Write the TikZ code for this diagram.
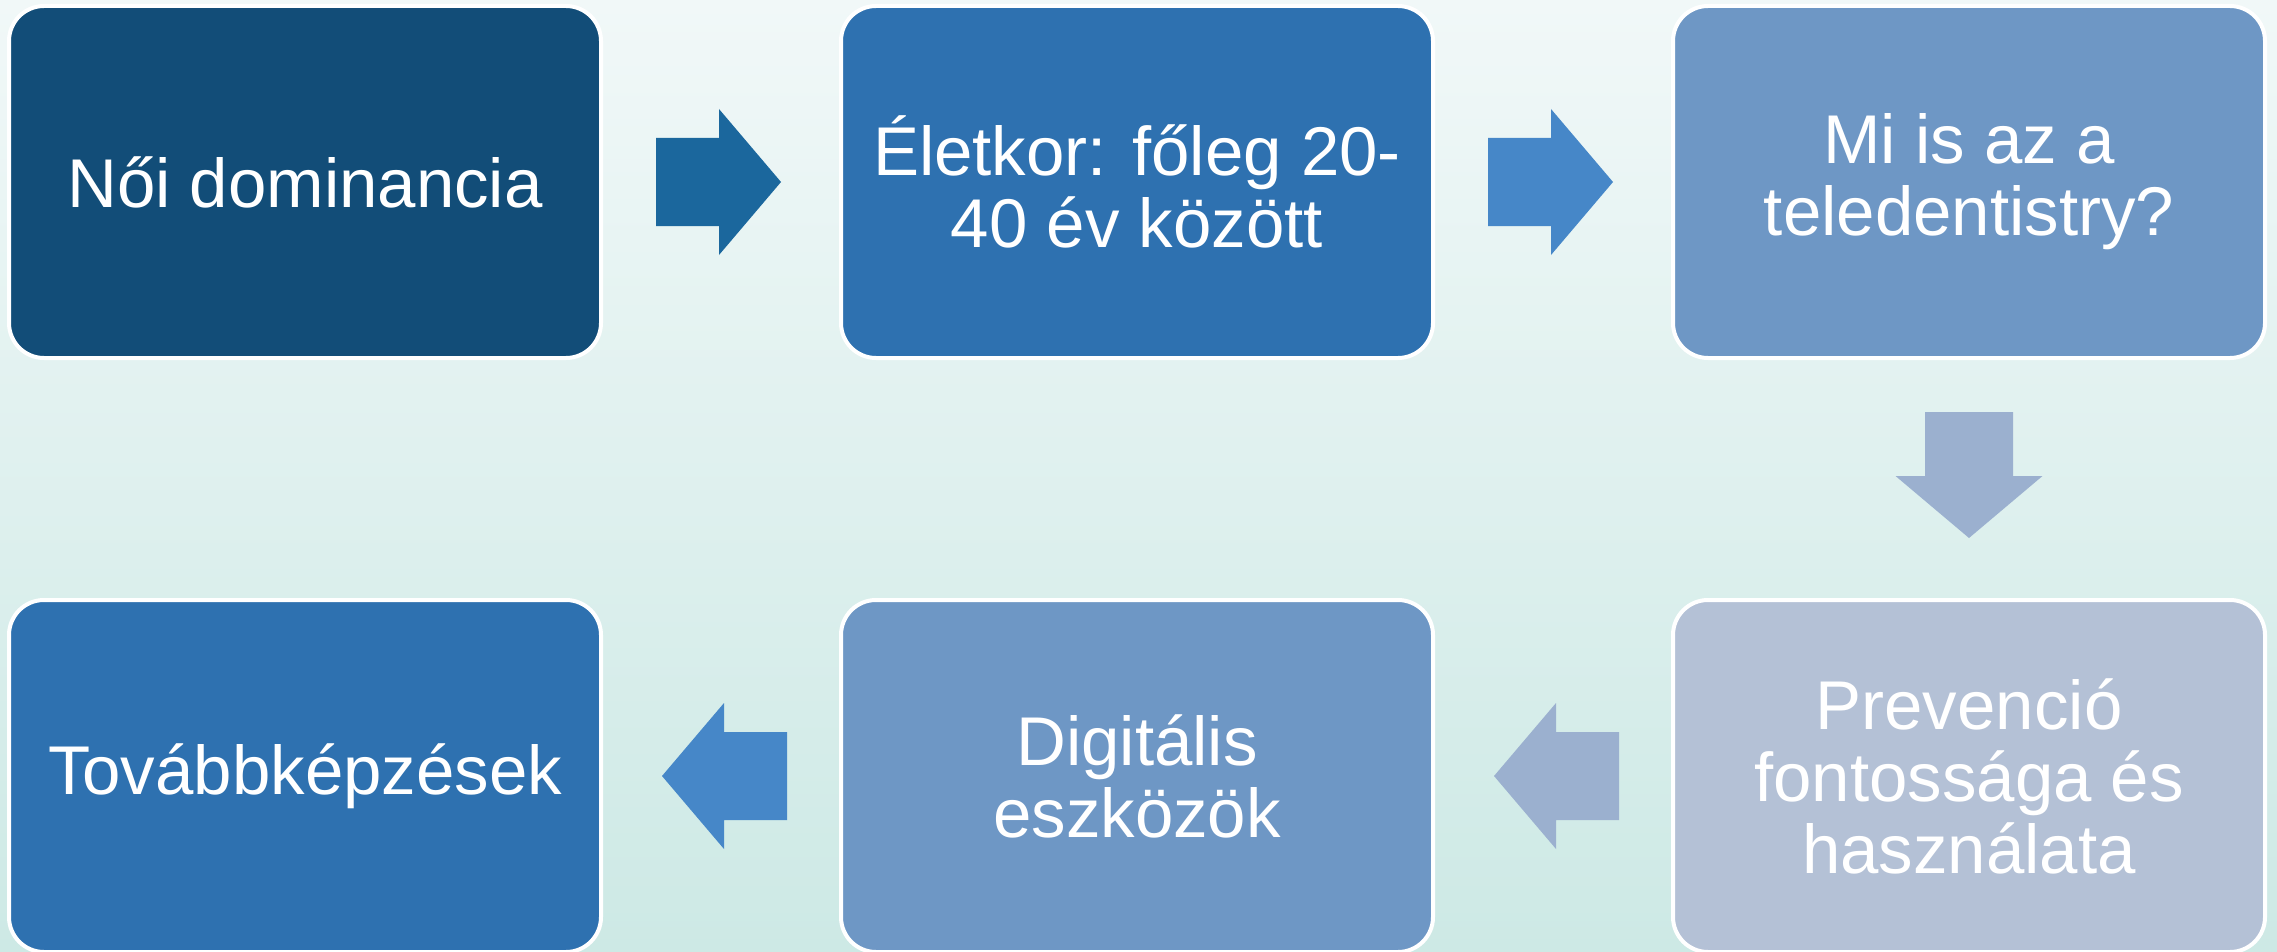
\documentclass[tikz,border=0pt]{standalone}
\usepackage{fontspec}
\setmainfont{Liberation Sans}
\usetikzlibrary{calc}
\definecolor{bgtop}{HTML}{F1F8F8}
\definecolor{bgbot}{HTML}{CDE9E5}
\definecolor{cA}{HTML}{124D78}
\definecolor{cB}{HTML}{2E71B0}
\definecolor{cC}{HTML}{6E97C5}
\definecolor{cD}{HTML}{B4C1D6}
\definecolor{aA}{HTML}{1B679D}
\definecolor{aB}{HTML}{4687C8}
\definecolor{aC}{HTML}{9BB0CF}
\tikzset{
  box/.style={draw=white, line width=4pt, rounded corners=35pt,
    minimum width=592pt, minimum height=352pt, inner sep=0pt,
    text=white, align=center, font=\fontsize{69}{72}\selectfont},
  rarr/.pic={\fill[pic actions] (-62,-44) -- (1,-44) -- (1,-73) -- (63,0) -- (1,73) -- (1,44) -- (-62,44) -- cycle;},
  larr/.pic={\fill[pic actions] (62,-44) -- (-1,-44) -- (-1,-73) -- (-63,0) -- (-1,73) -- (-1,44) -- (62,44) -- cycle;},
  darr/.pic={\fill[pic actions] (-44,-63) -- (-44,1) -- (-73.5,1) -- (0,63) -- (73.5,1) -- (44,1) -- (44,-63) -- cycle;}
}
\begin{document}
\begin{tikzpicture}[x=1pt,y=-1pt]
\useasboundingbox (0,0) rectangle (2277,952);
\shade[top color=bgtop, bottom color=bgbot] (0,0) rectangle (2277,952);
\node[box, fill=cA] (b1) at (305,182) {Női dominancia};
\node[box, fill=cB] (b2) at (1137,182) {Életkor: főleg 20-\\40 év között};
\node[box, fill=cC] (b3) at (1969,182) {Mi is az a\\teledentistry?};
\node[box, fill=cD] (b4) at (1969,776) {Prevenció\\fontossága és\\használata};
\node[box, fill=cC] (b5) at (1137,776) {Digitális\\eszközök};
\node[box, fill=cB] (b6) at (305,776) {Továbbképzések};
\pic[fill=aA] at ($(b1.east)!0.5!(b2.west)+(-3,0)$) {rarr};
\pic[fill=aB] at ($(b2.east)!0.5!(b3.west)+(-3,0)$) {rarr};
\pic[fill=aC] at ($(b3.south)!0.5!(b4.north)+(0,-4)$) {darr};
\pic[fill=aC] at ($(b4.west)!0.5!(b5.east)+(4,0)$) {larr};
\pic[fill=aB] at ($(b5.west)!0.5!(b6.east)+(4,0)$) {larr};
\end{tikzpicture}
\end{document}
